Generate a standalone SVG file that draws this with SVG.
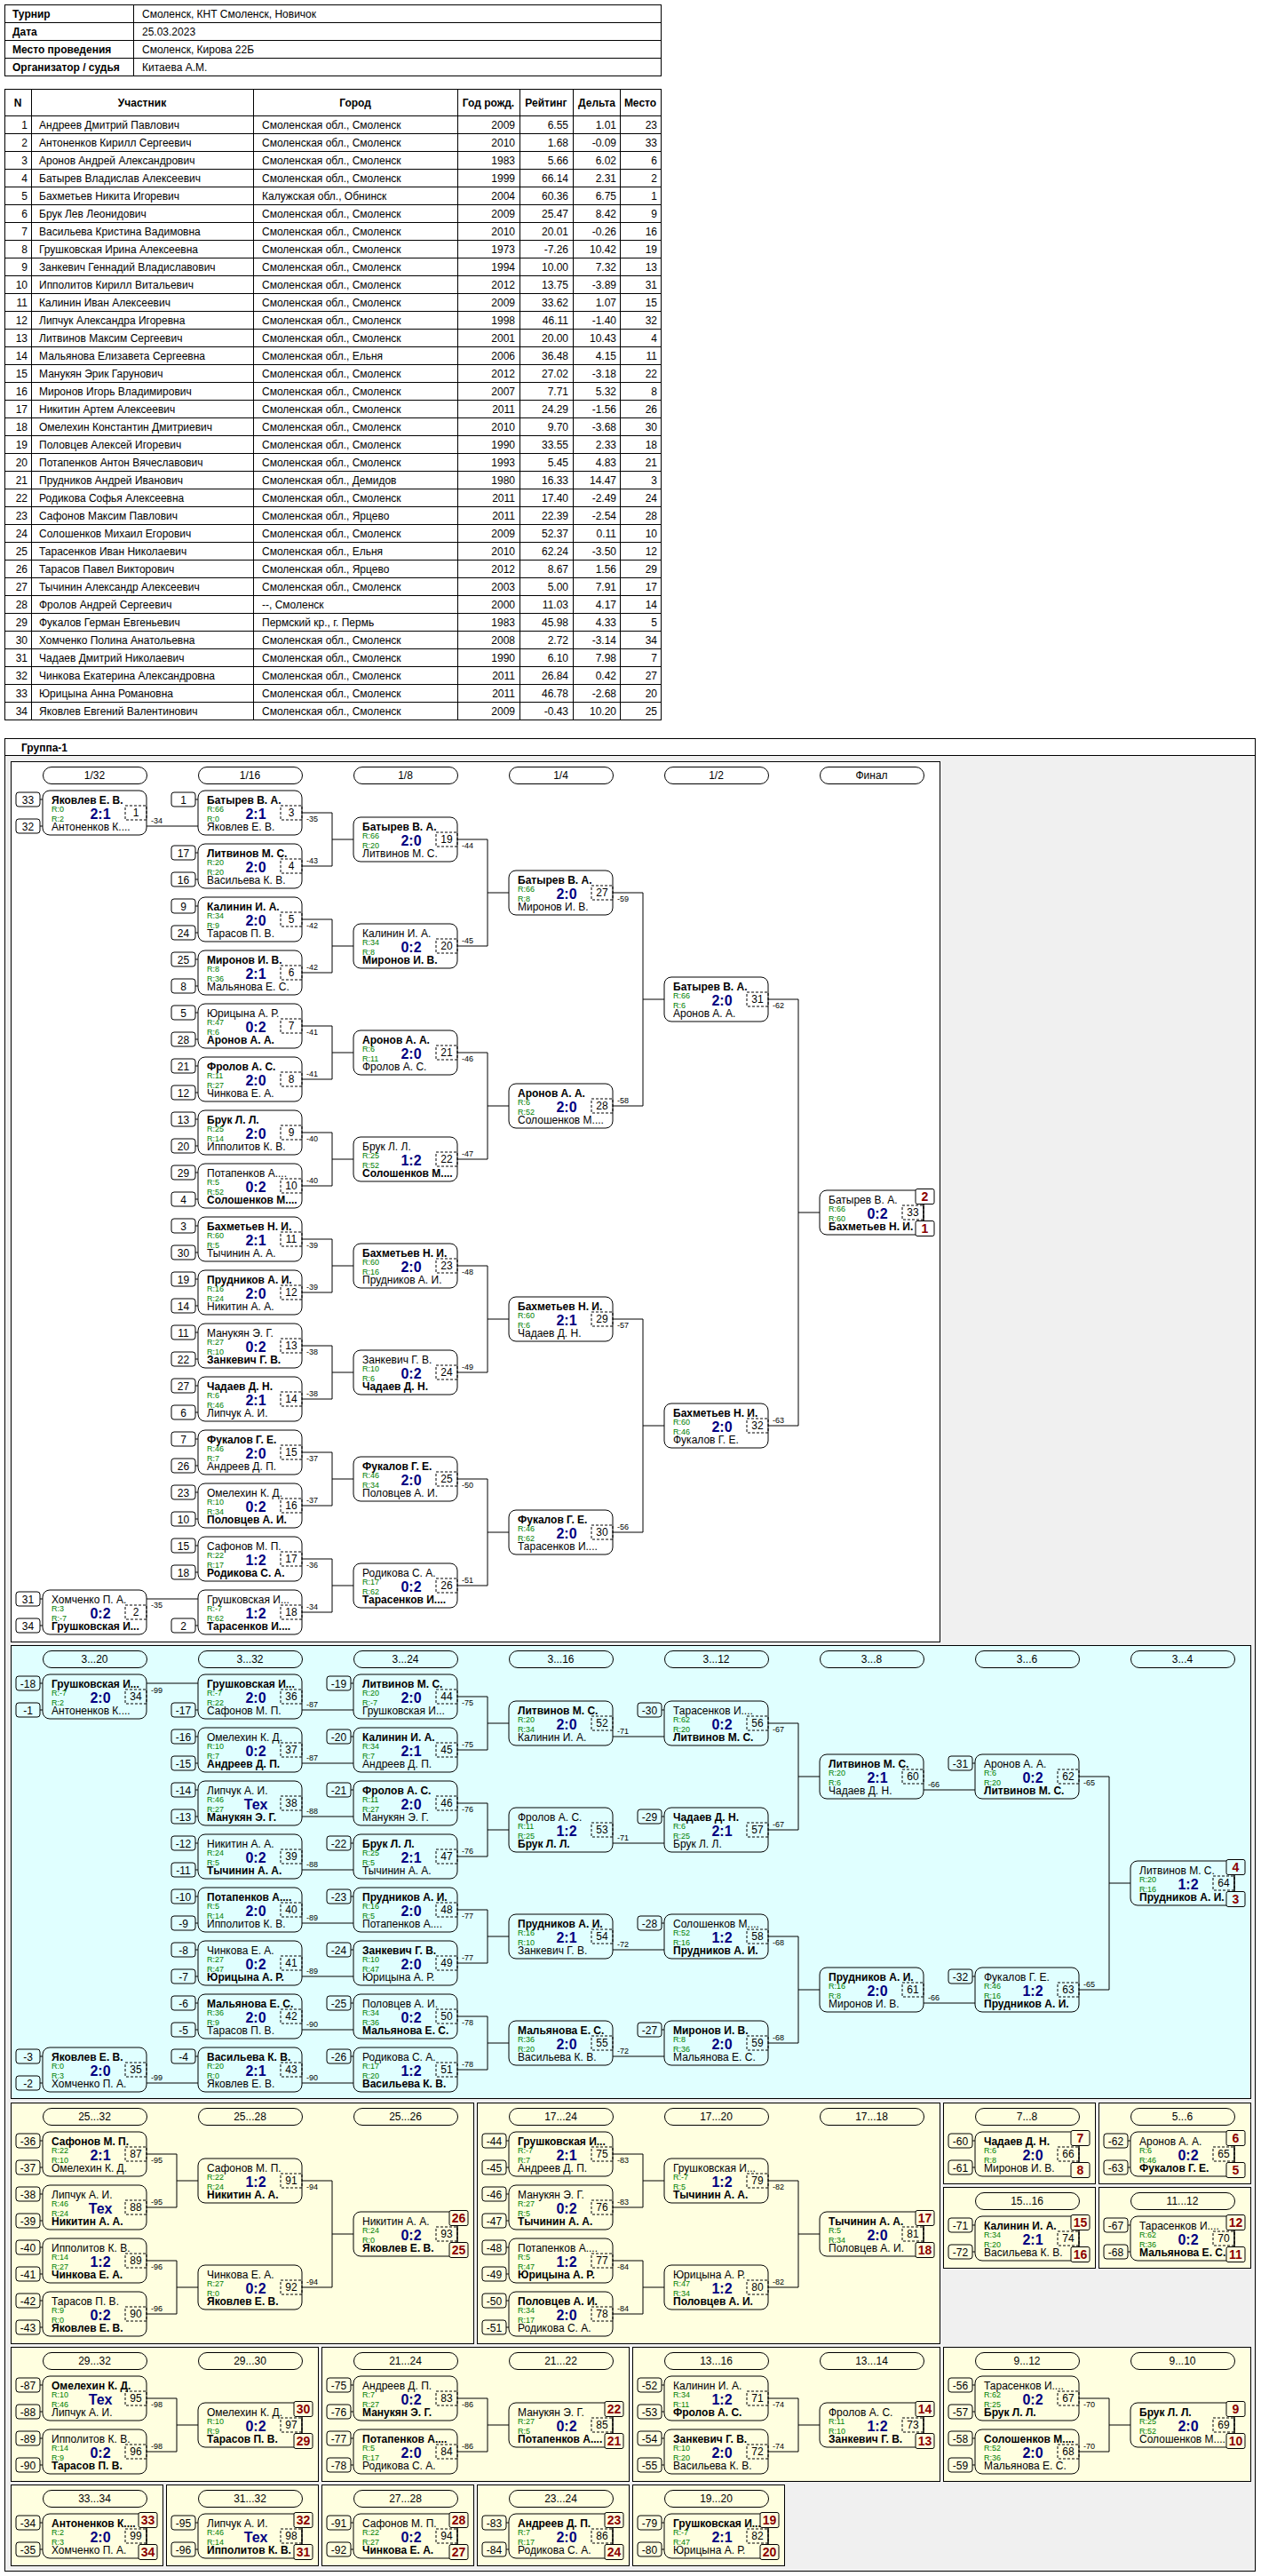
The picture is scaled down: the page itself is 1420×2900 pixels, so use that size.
<svg xmlns="http://www.w3.org/2000/svg" width="1420" height="2900" viewBox="0 0 1420 2900">
<style>
text{font-family:"Liberation Sans",Arial,Helvetica,sans-serif;fill:#000}
.n{font-size:12px}
.w{font-weight:bold}
.r{font-size:9px;fill:#008000}
.s{font-size:16px;font-weight:bold;fill:#000080;text-anchor:middle}
.k{font-size:12px;text-anchor:middle}
.l{font-size:9px}
.pt{font-size:14px;font-weight:bold;fill:#8b0000;text-anchor:middle}
.b{fill:none;stroke:#000}
.d{fill:none;stroke:#000;stroke-dasharray:3 2}
.pb{stroke:#000}
.cn path{fill:none;stroke:#000}
.tb{font-size:12px}
.th{font-size:12px;font-weight:bold;text-anchor:middle}
.e{text-anchor:end}
.grid{fill:none;stroke:#000}
</style>
<defs>
<g id="mb"><rect class="b" width="117" height="50" rx="8"/><rect class="d" x="93" y="17" width="24" height="16"/></g>
<g id="s2"><rect class="b" x="-30" y="2" width="27" height="16" rx="3"/><rect class="b" x="-30" y="32" width="27" height="16" rx="3"/><path class="b" d="M-3,10H0M-3,40H0"/></g>
<g id="sT"><rect class="b" x="-30" y="2" width="27" height="16" rx="3"/><path class="b" d="M-3,10H0"/></g>
<g id="sB"><rect class="b" x="-30" y="32" width="27" height="16" rx="3"/><path class="b" d="M-3,40H0"/></g>
<g id="pl"><path class="b" d="M117,15.5V34.5"/><rect class="pb" x="108" y="-1.5" width="21" height="17" rx="2"/><rect class="pb" x="108" y="34.5" width="21" height="17" rx="2"/></g>
<rect id="pill" class="b" width="117" height="19" rx="9.5"/>
</defs>
<rect width="1420" height="2900" fill="#fff"/>

<g id="info">
<rect class="grid" x="5.5" y="5.5" width="739" height="80"/>
<path class="grid" d="M5.5,25.5H744.5M5.5,45.5H744.5M5.5,65.5H744.5M150.5,5.5V85.5"/>
<text class="tb w" x="14" y="20">Турнир</text>
<text class="tb w" x="14" y="40">Дата</text>
<text class="tb w" x="14" y="60">Место проведения</text>
<text class="tb w" x="14" y="80">Организатор / судья</text>
<text class="tb" x="160" y="20">Смоленск, КНТ Смоленск, Новичок</text>
<text class="tb" x="160" y="40">25.03.2023</text>
<text class="tb" x="160" y="60">Смоленск, Кирова 22Б</text>
<text class="tb" x="160" y="80">Китаева А.М.</text>
</g>

<g id="participants">
<rect class="grid" x="5.5" y="100.5" width="739" height="710"/>
<path class="grid" d="M5.5,130.5H744.5M5.5,150.5H744.5M5.5,170.5H744.5M5.5,190.5H744.5M5.5,210.5H744.5M5.5,230.5H744.5M5.5,250.5H744.5M5.5,270.5H744.5M5.5,290.5H744.5M5.5,310.5H744.5M5.5,330.5H744.5M5.5,350.5H744.5M5.5,370.5H744.5M5.5,390.5H744.5M5.5,410.5H744.5M5.5,430.5H744.5M5.5,450.5H744.5M5.5,470.5H744.5M5.5,490.5H744.5M5.5,510.5H744.5M5.5,530.5H744.5M5.5,550.5H744.5M5.5,570.5H744.5M5.5,590.5H744.5M5.5,610.5H744.5M5.5,630.5H744.5M5.5,650.5H744.5M5.5,670.5H744.5M5.5,690.5H744.5M5.5,710.5H744.5M5.5,730.5H744.5M5.5,750.5H744.5M5.5,770.5H744.5M5.5,790.5H744.5M35.5,100.5V810.5M285.5,100.5V810.5M515.5,100.5V810.5M585.5,100.5V810.5M645.5,100.5V810.5M698.5,100.5V810.5"/>
<text class="th" x="20" y="120">N</text>
<text class="th" x="160" y="120">Участник</text>
<text class="th" x="400" y="120">Город</text>
<text class="th" x="550" y="120">Год рожд.</text>
<text class="th" x="615" y="120">Рейтинг</text>
<text class="th" x="672" y="120">Дельта</text>
<text class="th" x="721" y="120">Место</text>
<text class="tb e" x="31" y="145"><tspan x="31">1</tspan><tspan x="31" dy="20">2</tspan><tspan x="31" dy="20">3</tspan><tspan x="31" dy="20">4</tspan><tspan x="31" dy="20">5</tspan><tspan x="31" dy="20">6</tspan><tspan x="31" dy="20">7</tspan><tspan x="31" dy="20">8</tspan><tspan x="31" dy="20">9</tspan><tspan x="31" dy="20">10</tspan><tspan x="31" dy="20">11</tspan><tspan x="31" dy="20">12</tspan><tspan x="31" dy="20">13</tspan><tspan x="31" dy="20">14</tspan><tspan x="31" dy="20">15</tspan><tspan x="31" dy="20">16</tspan><tspan x="31" dy="20">17</tspan><tspan x="31" dy="20">18</tspan><tspan x="31" dy="20">19</tspan><tspan x="31" dy="20">20</tspan><tspan x="31" dy="20">21</tspan><tspan x="31" dy="20">22</tspan><tspan x="31" dy="20">23</tspan><tspan x="31" dy="20">24</tspan><tspan x="31" dy="20">25</tspan><tspan x="31" dy="20">26</tspan><tspan x="31" dy="20">27</tspan><tspan x="31" dy="20">28</tspan><tspan x="31" dy="20">29</tspan><tspan x="31" dy="20">30</tspan><tspan x="31" dy="20">31</tspan><tspan x="31" dy="20">32</tspan><tspan x="31" dy="20">33</tspan><tspan x="31" dy="20">34</tspan></text>
<text class="tb" x="44" y="145"><tspan x="44">Андреев Дмитрий Павлович</tspan><tspan x="44" dy="20">Антоненков Кирилл Сергеевич</tspan><tspan x="44" dy="20">Аронов Андрей Александрович</tspan><tspan x="44" dy="20">Батырев Владислав Алексеевич</tspan><tspan x="44" dy="20">Бахметьев Никита Игоревич</tspan><tspan x="44" dy="20">Брук Лев Леонидович</tspan><tspan x="44" dy="20">Васильева Кристина Вадимовна</tspan><tspan x="44" dy="20">Грушковская Ирина Алексеевна</tspan><tspan x="44" dy="20">Занкевич Геннадий Владиславович</tspan><tspan x="44" dy="20">Ипполитов Кирилл Витальевич</tspan><tspan x="44" dy="20">Калинин Иван Алексеевич</tspan><tspan x="44" dy="20">Липчук Александра Игоревна</tspan><tspan x="44" dy="20">Литвинов Максим Сергеевич</tspan><tspan x="44" dy="20">Мальянова Елизавета Сергеевна</tspan><tspan x="44" dy="20">Манукян Эрик Гарунович</tspan><tspan x="44" dy="20">Миронов Игорь Владимирович</tspan><tspan x="44" dy="20">Никитин Артем Алексеевич</tspan><tspan x="44" dy="20">Омелехин Константин Дмитриевич</tspan><tspan x="44" dy="20">Половцев Алексей Игоревич</tspan><tspan x="44" dy="20">Потапенков Антон Вячеславович</tspan><tspan x="44" dy="20">Прудников Андрей Иванович</tspan><tspan x="44" dy="20">Родикова Софья Алексеевна</tspan><tspan x="44" dy="20">Сафонов Максим Павлович</tspan><tspan x="44" dy="20">Солошенков Михаил Егорович</tspan><tspan x="44" dy="20">Тарасенков Иван Николаевич</tspan><tspan x="44" dy="20">Тарасов Павел Викторович</tspan><tspan x="44" dy="20">Тычинин Александр Алексеевич</tspan><tspan x="44" dy="20">Фролов Андрей Сергеевич</tspan><tspan x="44" dy="20">Фукалов Герман Евгеньевич</tspan><tspan x="44" dy="20">Хомченко Полина Анатольевна</tspan><tspan x="44" dy="20">Чадаев Дмитрий Николаевич</tspan><tspan x="44" dy="20">Чинкова Екатерина Александровна</tspan><tspan x="44" dy="20">Юрицына Анна Романовна</tspan><tspan x="44" dy="20">Яковлев Евгений Валентинович</tspan></text>
<text class="tb" x="295" y="145"><tspan x="295">Смоленская обл., Смоленск</tspan><tspan x="295" dy="20">Смоленская обл., Смоленск</tspan><tspan x="295" dy="20">Смоленская обл., Смоленск</tspan><tspan x="295" dy="20">Смоленская обл., Смоленск</tspan><tspan x="295" dy="20">Калужская обл., Обнинск</tspan><tspan x="295" dy="20">Смоленская обл., Смоленск</tspan><tspan x="295" dy="20">Смоленская обл., Смоленск</tspan><tspan x="295" dy="20">Смоленская обл., Смоленск</tspan><tspan x="295" dy="20">Смоленская обл., Смоленск</tspan><tspan x="295" dy="20">Смоленская обл., Смоленск</tspan><tspan x="295" dy="20">Смоленская обл., Смоленск</tspan><tspan x="295" dy="20">Смоленская обл., Смоленск</tspan><tspan x="295" dy="20">Смоленская обл., Смоленск</tspan><tspan x="295" dy="20">Смоленская обл., Ельня</tspan><tspan x="295" dy="20">Смоленская обл., Смоленск</tspan><tspan x="295" dy="20">Смоленская обл., Смоленск</tspan><tspan x="295" dy="20">Смоленская обл., Смоленск</tspan><tspan x="295" dy="20">Смоленская обл., Смоленск</tspan><tspan x="295" dy="20">Смоленская обл., Смоленск</tspan><tspan x="295" dy="20">Смоленская обл., Смоленск</tspan><tspan x="295" dy="20">Смоленская обл., Демидов</tspan><tspan x="295" dy="20">Смоленская обл., Смоленск</tspan><tspan x="295" dy="20">Смоленская обл., Ярцево</tspan><tspan x="295" dy="20">Смоленская обл., Смоленск</tspan><tspan x="295" dy="20">Смоленская обл., Ельня</tspan><tspan x="295" dy="20">Смоленская обл., Ярцево</tspan><tspan x="295" dy="20">Смоленская обл., Смоленск</tspan><tspan x="295" dy="20">--, Смоленск</tspan><tspan x="295" dy="20">Пермский кр., г. Пермь</tspan><tspan x="295" dy="20">Смоленская обл., Смоленск</tspan><tspan x="295" dy="20">Смоленская обл., Смоленск</tspan><tspan x="295" dy="20">Смоленская обл., Смоленск</tspan><tspan x="295" dy="20">Смоленская обл., Смоленск</tspan><tspan x="295" dy="20">Смоленская обл., Смоленск</tspan></text>
<text class="tb e" x="580" y="145"><tspan x="580">2009</tspan><tspan x="580" dy="20">2010</tspan><tspan x="580" dy="20">1983</tspan><tspan x="580" dy="20">1999</tspan><tspan x="580" dy="20">2004</tspan><tspan x="580" dy="20">2009</tspan><tspan x="580" dy="20">2010</tspan><tspan x="580" dy="20">1973</tspan><tspan x="580" dy="20">1994</tspan><tspan x="580" dy="20">2012</tspan><tspan x="580" dy="20">2009</tspan><tspan x="580" dy="20">1998</tspan><tspan x="580" dy="20">2001</tspan><tspan x="580" dy="20">2006</tspan><tspan x="580" dy="20">2012</tspan><tspan x="580" dy="20">2007</tspan><tspan x="580" dy="20">2011</tspan><tspan x="580" dy="20">2010</tspan><tspan x="580" dy="20">1990</tspan><tspan x="580" dy="20">1993</tspan><tspan x="580" dy="20">1980</tspan><tspan x="580" dy="20">2011</tspan><tspan x="580" dy="20">2011</tspan><tspan x="580" dy="20">2009</tspan><tspan x="580" dy="20">2010</tspan><tspan x="580" dy="20">2012</tspan><tspan x="580" dy="20">2003</tspan><tspan x="580" dy="20">2000</tspan><tspan x="580" dy="20">1983</tspan><tspan x="580" dy="20">2008</tspan><tspan x="580" dy="20">1990</tspan><tspan x="580" dy="20">2011</tspan><tspan x="580" dy="20">2011</tspan><tspan x="580" dy="20">2009</tspan></text>
<text class="tb e" x="640" y="145"><tspan x="640">6.55</tspan><tspan x="640" dy="20">1.68</tspan><tspan x="640" dy="20">5.66</tspan><tspan x="640" dy="20">66.14</tspan><tspan x="640" dy="20">60.36</tspan><tspan x="640" dy="20">25.47</tspan><tspan x="640" dy="20">20.01</tspan><tspan x="640" dy="20">-7.26</tspan><tspan x="640" dy="20">10.00</tspan><tspan x="640" dy="20">13.75</tspan><tspan x="640" dy="20">33.62</tspan><tspan x="640" dy="20">46.11</tspan><tspan x="640" dy="20">20.00</tspan><tspan x="640" dy="20">36.48</tspan><tspan x="640" dy="20">27.02</tspan><tspan x="640" dy="20">7.71</tspan><tspan x="640" dy="20">24.29</tspan><tspan x="640" dy="20">9.70</tspan><tspan x="640" dy="20">33.55</tspan><tspan x="640" dy="20">5.45</tspan><tspan x="640" dy="20">16.33</tspan><tspan x="640" dy="20">17.40</tspan><tspan x="640" dy="20">22.39</tspan><tspan x="640" dy="20">52.37</tspan><tspan x="640" dy="20">62.24</tspan><tspan x="640" dy="20">8.67</tspan><tspan x="640" dy="20">5.00</tspan><tspan x="640" dy="20">11.03</tspan><tspan x="640" dy="20">45.98</tspan><tspan x="640" dy="20">2.72</tspan><tspan x="640" dy="20">6.10</tspan><tspan x="640" dy="20">26.84</tspan><tspan x="640" dy="20">46.78</tspan><tspan x="640" dy="20">-0.43</tspan></text>
<text class="tb e" x="694" y="145"><tspan x="694">1.01</tspan><tspan x="694" dy="20">-0.09</tspan><tspan x="694" dy="20">6.02</tspan><tspan x="694" dy="20">2.31</tspan><tspan x="694" dy="20">6.75</tspan><tspan x="694" dy="20">8.42</tspan><tspan x="694" dy="20">-0.26</tspan><tspan x="694" dy="20">10.42</tspan><tspan x="694" dy="20">7.32</tspan><tspan x="694" dy="20">-3.89</tspan><tspan x="694" dy="20">1.07</tspan><tspan x="694" dy="20">-1.40</tspan><tspan x="694" dy="20">10.43</tspan><tspan x="694" dy="20">4.15</tspan><tspan x="694" dy="20">-3.18</tspan><tspan x="694" dy="20">5.32</tspan><tspan x="694" dy="20">-1.56</tspan><tspan x="694" dy="20">-3.68</tspan><tspan x="694" dy="20">2.33</tspan><tspan x="694" dy="20">4.83</tspan><tspan x="694" dy="20">14.47</tspan><tspan x="694" dy="20">-2.49</tspan><tspan x="694" dy="20">-2.54</tspan><tspan x="694" dy="20">0.11</tspan><tspan x="694" dy="20">-3.50</tspan><tspan x="694" dy="20">1.56</tspan><tspan x="694" dy="20">7.91</tspan><tspan x="694" dy="20">4.17</tspan><tspan x="694" dy="20">4.33</tspan><tspan x="694" dy="20">-3.14</tspan><tspan x="694" dy="20">7.98</tspan><tspan x="694" dy="20">0.42</tspan><tspan x="694" dy="20">-2.68</tspan><tspan x="694" dy="20">10.20</tspan></text>
<text class="tb e" x="740" y="145"><tspan x="740">23</tspan><tspan x="740" dy="20">33</tspan><tspan x="740" dy="20">6</tspan><tspan x="740" dy="20">2</tspan><tspan x="740" dy="20">1</tspan><tspan x="740" dy="20">9</tspan><tspan x="740" dy="20">16</tspan><tspan x="740" dy="20">19</tspan><tspan x="740" dy="20">13</tspan><tspan x="740" dy="20">31</tspan><tspan x="740" dy="20">15</tspan><tspan x="740" dy="20">32</tspan><tspan x="740" dy="20">4</tspan><tspan x="740" dy="20">11</tspan><tspan x="740" dy="20">22</tspan><tspan x="740" dy="20">8</tspan><tspan x="740" dy="20">26</tspan><tspan x="740" dy="20">30</tspan><tspan x="740" dy="20">18</tspan><tspan x="740" dy="20">21</tspan><tspan x="740" dy="20">3</tspan><tspan x="740" dy="20">24</tspan><tspan x="740" dy="20">28</tspan><tspan x="740" dy="20">10</tspan><tspan x="740" dy="20">12</tspan><tspan x="740" dy="20">29</tspan><tspan x="740" dy="20">17</tspan><tspan x="740" dy="20">14</tspan><tspan x="740" dy="20">5</tspan><tspan x="740" dy="20">34</tspan><tspan x="740" dy="20">7</tspan><tspan x="740" dy="20">27</tspan><tspan x="740" dy="20">20</tspan><tspan x="740" dy="20">25</tspan></text>
</g>

<g id="sections">
<rect x="5.5" y="831.5" width="1408" height="2063" fill="#f0f0f0" stroke="#000"/>
<rect x="5.5" y="831.5" width="1408" height="19" fill="#fff" stroke="#000"/>
<text class="n w" x="24" y="846">Группа-1</text>
<rect x="12.5" y="857.5" width="1046" height="991" fill="#fff" stroke="#000"/>
<rect x="12.5" y="1852.5" width="1396" height="510" fill="#e0ffff" stroke="#000"/>
<rect x="12.5" y="2367.5" width="521" height="271" fill="#ffffe0" stroke="#000"/>
<rect x="537.5" y="2367.5" width="521" height="271" fill="#ffffe0" stroke="#000"/>
<rect x="1062.5" y="2367.5" width="171" height="91" fill="#ffffe0" stroke="#000"/>
<rect x="1237.5" y="2367.5" width="171" height="91" fill="#ffffe0" stroke="#000"/>
<rect x="1062.5" y="2462.5" width="171" height="91" fill="#ffffe0" stroke="#000"/>
<rect x="1237.5" y="2462.5" width="171" height="91" fill="#ffffe0" stroke="#000"/>
<rect x="12.5" y="2642.5" width="346" height="151" fill="#ffffe0" stroke="#000"/>
<rect x="362.5" y="2642.5" width="346" height="151" fill="#ffffe0" stroke="#000"/>
<rect x="712.5" y="2642.5" width="346" height="151" fill="#ffffe0" stroke="#000"/>
<rect x="1062.5" y="2642.5" width="346" height="151" fill="#ffffe0" stroke="#000"/>
<rect x="12.5" y="2797.5" width="171" height="91" fill="#ffffe0" stroke="#000"/>
<rect x="187.5" y="2797.5" width="171" height="91" fill="#ffffe0" stroke="#000"/>
<rect x="362.5" y="2797.5" width="171" height="91" fill="#ffffe0" stroke="#000"/>
<rect x="537.5" y="2797.5" width="171" height="91" fill="#ffffe0" stroke="#000"/>
<rect x="712.5" y="2797.5" width="171" height="91" fill="#ffffe0" stroke="#000"/>
</g>

<g id="rounds">
<use href="#pill" x="48.5" y="863.5"/><text class="k" x="106.5" y="877">1/32</text>
<use href="#pill" x="223.5" y="863.5"/><text class="k" x="281.5" y="877">1/16</text>
<use href="#pill" x="398.5" y="863.5"/><text class="k" x="456.5" y="877">1/8</text>
<use href="#pill" x="573.5" y="863.5"/><text class="k" x="631.5" y="877">1/4</text>
<use href="#pill" x="748.5" y="863.5"/><text class="k" x="806.5" y="877">1/2</text>
<use href="#pill" x="923.5" y="863.5"/><text class="k" x="981.5" y="877">Финал</text>
<use href="#pill" x="48.5" y="1858.5"/><text class="k" x="106.5" y="1872">3...20</text>
<use href="#pill" x="223.5" y="1858.5"/><text class="k" x="281.5" y="1872">3...32</text>
<use href="#pill" x="398.5" y="1858.5"/><text class="k" x="456.5" y="1872">3...24</text>
<use href="#pill" x="573.5" y="1858.5"/><text class="k" x="631.5" y="1872">3...16</text>
<use href="#pill" x="748.5" y="1858.5"/><text class="k" x="806.5" y="1872">3...12</text>
<use href="#pill" x="923.5" y="1858.5"/><text class="k" x="981.5" y="1872">3...8</text>
<use href="#pill" x="1098.5" y="1858.5"/><text class="k" x="1156.5" y="1872">3...6</text>
<use href="#pill" x="1273.5" y="1858.5"/><text class="k" x="1331.5" y="1872">3...4</text>
<use href="#pill" x="48.5" y="2373.5"/><text class="k" x="106.5" y="2387">25...32</text>
<use href="#pill" x="223.5" y="2373.5"/><text class="k" x="281.5" y="2387">25...28</text>
<use href="#pill" x="398.5" y="2373.5"/><text class="k" x="456.5" y="2387">25...26</text>
<use href="#pill" x="573.5" y="2373.5"/><text class="k" x="631.5" y="2387">17...24</text>
<use href="#pill" x="748.5" y="2373.5"/><text class="k" x="806.5" y="2387">17...20</text>
<use href="#pill" x="923.5" y="2373.5"/><text class="k" x="981.5" y="2387">17...18</text>
<use href="#pill" x="1098.5" y="2373.5"/><text class="k" x="1156.5" y="2387">7...8</text>
<use href="#pill" x="1273.5" y="2373.5"/><text class="k" x="1331.5" y="2387">5...6</text>
<use href="#pill" x="1098.5" y="2468.5"/><text class="k" x="1156.5" y="2482">15...16</text>
<use href="#pill" x="1273.5" y="2468.5"/><text class="k" x="1331.5" y="2482">11...12</text>
<use href="#pill" x="48.5" y="2648.5"/><text class="k" x="106.5" y="2662">29...32</text>
<use href="#pill" x="223.5" y="2648.5"/><text class="k" x="281.5" y="2662">29...30</text>
<use href="#pill" x="398.5" y="2648.5"/><text class="k" x="456.5" y="2662">21...24</text>
<use href="#pill" x="573.5" y="2648.5"/><text class="k" x="631.5" y="2662">21...22</text>
<use href="#pill" x="748.5" y="2648.5"/><text class="k" x="806.5" y="2662">13...16</text>
<use href="#pill" x="923.5" y="2648.5"/><text class="k" x="981.5" y="2662">13...14</text>
<use href="#pill" x="1098.5" y="2648.5"/><text class="k" x="1156.5" y="2662">9...12</text>
<use href="#pill" x="1273.5" y="2648.5"/><text class="k" x="1331.5" y="2662">9...10</text>
<use href="#pill" x="48.5" y="2803.5"/><text class="k" x="106.5" y="2817">33...34</text>
<use href="#pill" x="223.5" y="2803.5"/><text class="k" x="281.5" y="2817">31...32</text>
<use href="#pill" x="398.5" y="2803.5"/><text class="k" x="456.5" y="2817">27...28</text>
<use href="#pill" x="573.5" y="2803.5"/><text class="k" x="631.5" y="2817">23...24</text>
<use href="#pill" x="748.5" y="2803.5"/><text class="k" x="806.5" y="2817">19...20</text>
</g>

<g id="connectors" class="cn">
<path d="M165,930H223M165,1800H223"/>
<path d="M340,915H374V975H340M374,945H398M340,1035H374V1095H340M374,1065H398M340,1155H374V1215H340M374,1185H398M340,1275H374V1335H340M374,1305H398M340,1395H374V1455H340M374,1425H398M340,1515H374V1575H340M374,1545H398M340,1635H374V1695H340M374,1665H398M340,1755H374V1815H340M374,1785H398"/>
<path d="M515,945H549V1065H515M549,1005H573M515,1185H549V1305H515M549,1245H573M515,1425H549V1545H515M549,1485H573M515,1665H549V1785H515M549,1725H573"/>
<path d="M690,1005H724V1245H690M724,1125H748M690,1485H724V1725H690M724,1605H748"/>
<path d="M865,1125H899V1605H865M899,1365H923"/>
<path d="M165,1895H223M165,2345H223M340,1925H398M340,1985H398M340,2045H398M340,2105H398M340,2165H398M340,2225H398M340,2285H398M340,2345H398"/>
<path d="M515,1910H549V1970H515M549,1940H573M515,2030H549V2090H515M549,2060H573M515,2150H549V2210H515M549,2180H573M515,2270H549V2330H515M549,2300H573"/>
<path d="M690,1955H748M690,2075H748M690,2195H748M690,2315H748"/>
<path d="M865,1940H899V2060H865M899,2000H923M865,2180H899V2300H865M899,2240H923"/>
<path d="M1040,2015H1098M1040,2255H1098M1215,2000H1249V2240H1215M1249,2120H1273"/>
<path d="M165,2425H199V2485H165M199,2455H223M165,2545H199V2605H165M199,2575H223M340,2455H374V2575H340M374,2515H398"/>
<path d="M690,2425H724V2485H690M724,2455H748M690,2545H724V2605H690M724,2575H748M865,2455H899V2575H865M899,2515H923"/>
<path d="M165,2700H199V2760H165M199,2730H223M515,2700H549V2760H515M549,2730H573M865,2700H899V2760H865M899,2730H923M1215,2700H1249V2760H1215M1249,2730H1273"/>
<text class="l" x="170" y="927">-34</text><text class="l" x="170" y="1810">-35</text>
<text class="l" x="345" y="925">-35</text><text class="l" x="345" y="972">-43</text>
<text class="l" x="345" y="1045">-42</text><text class="l" x="345" y="1092">-42</text>
<text class="l" x="345" y="1165">-41</text><text class="l" x="345" y="1212">-41</text>
<text class="l" x="345" y="1285">-40</text><text class="l" x="345" y="1332">-40</text>
<text class="l" x="345" y="1405">-39</text><text class="l" x="345" y="1452">-39</text>
<text class="l" x="345" y="1525">-38</text><text class="l" x="345" y="1572">-38</text>
<text class="l" x="345" y="1645">-37</text><text class="l" x="345" y="1692">-37</text>
<text class="l" x="345" y="1765">-36</text><text class="l" x="345" y="1812">-34</text>
<text class="l" x="520" y="955">-44</text><text class="l" x="520" y="1062">-45</text>
<text class="l" x="520" y="1195">-46</text><text class="l" x="520" y="1302">-47</text>
<text class="l" x="520" y="1435">-48</text><text class="l" x="520" y="1542">-49</text>
<text class="l" x="520" y="1675">-50</text><text class="l" x="520" y="1782">-51</text>
<text class="l" x="695" y="1015">-59</text><text class="l" x="695" y="1242">-58</text>
<text class="l" x="695" y="1495">-57</text><text class="l" x="695" y="1722">-56</text>
<text class="l" x="870" y="1135">-62</text><text class="l" x="870" y="1602">-63</text>
<text class="l" x="170" y="1906">-99</text><text class="l" x="170" y="2342">-99</text>
<text class="l" x="345" y="1922">-87</text><text class="l" x="345" y="1982">-87</text>
<text class="l" x="345" y="2042">-88</text><text class="l" x="345" y="2102">-88</text>
<text class="l" x="345" y="2162">-89</text><text class="l" x="345" y="2222">-89</text>
<text class="l" x="345" y="2282">-90</text><text class="l" x="345" y="2342">-90</text>
<text class="l" x="520" y="1920">-75</text><text class="l" x="520" y="1967">-75</text>
<text class="l" x="520" y="2040">-76</text><text class="l" x="520" y="2087">-76</text>
<text class="l" x="520" y="2160">-77</text><text class="l" x="520" y="2207">-77</text>
<text class="l" x="520" y="2280">-78</text><text class="l" x="520" y="2327">-78</text>
<text class="l" x="695" y="1952">-71</text><text class="l" x="695" y="2072">-71</text>
<text class="l" x="695" y="2192">-72</text><text class="l" x="695" y="2312">-72</text>
<text class="l" x="870" y="1950">-67</text><text class="l" x="870" y="2057">-67</text>
<text class="l" x="870" y="2190">-68</text><text class="l" x="870" y="2297">-68</text>
<text class="l" x="1045" y="2012">-66</text><text class="l" x="1045" y="2252">-66</text>
<text class="l" x="1220" y="2010">-65</text><text class="l" x="1220" y="2237">-65</text>
<text class="l" x="170" y="2435">-95</text><text class="l" x="170" y="2482">-95</text>
<text class="l" x="170" y="2555">-96</text><text class="l" x="170" y="2602">-96</text>
<text class="l" x="345" y="2465">-94</text><text class="l" x="345" y="2572">-94</text>
<text class="l" x="695" y="2435">-83</text><text class="l" x="695" y="2482">-83</text>
<text class="l" x="695" y="2555">-84</text><text class="l" x="695" y="2602">-84</text>
<text class="l" x="870" y="2465">-82</text><text class="l" x="870" y="2572">-82</text>
<text class="l" x="170" y="2710">-98</text><text class="l" x="170" y="2757">-98</text>
<text class="l" x="520" y="2710">-86</text><text class="l" x="520" y="2757">-86</text>
<text class="l" x="870" y="2710">-74</text><text class="l" x="870" y="2757">-74</text>
<text class="l" x="1220" y="2710">-70</text><text class="l" x="1220" y="2757">-70</text>
</g>

<g id="m1" transform="translate(48,890)"><use href="#mb"/><use href="#s2"/><text class="k" x="-16.5" y="15">33</text><text class="k" x="-16.5" y="45">32</text><text class="n w" x="10" y="15">Яковлев Е. В.</text><text class="r" x="10" y="24">R:0</text><text class="r" x="10" y="35">R:2</text><text class="s" x="65" y="32">2:1</text><text class="k" x="105" y="29">1</text><text class="n" x="10" y="45">Антоненков К....</text></g>
<g id="m2" transform="translate(48,1790)"><use href="#mb"/><use href="#s2"/><text class="k" x="-16.5" y="15">31</text><text class="k" x="-16.5" y="45">34</text><text class="n" x="10" y="15">Хомченко П. А.</text><text class="r" x="10" y="24">R:3</text><text class="r" x="10" y="35">R:-7</text><text class="s" x="65" y="32">0:2</text><text class="k" x="105" y="29">2</text><text class="n w" x="10" y="45">Грушковская И...</text></g>
<g id="m3" transform="translate(223,890)"><use href="#mb"/><use href="#sT"/><text class="k" x="-16.5" y="15">1</text><text class="n w" x="10" y="15">Батырев В. А.</text><text class="r" x="10" y="24">R:66</text><text class="r" x="10" y="35">R:0</text><text class="s" x="65" y="32">2:1</text><text class="k" x="105" y="29">3</text><text class="n" x="10" y="45">Яковлев Е. В.</text></g>
<g id="m4" transform="translate(223,950)"><use href="#mb"/><use href="#s2"/><text class="k" x="-16.5" y="15">17</text><text class="k" x="-16.5" y="45">16</text><text class="n w" x="10" y="15">Литвинов М. С.</text><text class="r" x="10" y="24">R:20</text><text class="r" x="10" y="35">R:20</text><text class="s" x="65" y="32">2:0</text><text class="k" x="105" y="29">4</text><text class="n" x="10" y="45">Васильева К. В.</text></g>
<g id="m5" transform="translate(223,1010)"><use href="#mb"/><use href="#s2"/><text class="k" x="-16.5" y="15">9</text><text class="k" x="-16.5" y="45">24</text><text class="n w" x="10" y="15">Калинин И. А.</text><text class="r" x="10" y="24">R:34</text><text class="r" x="10" y="35">R:9</text><text class="s" x="65" y="32">2:0</text><text class="k" x="105" y="29">5</text><text class="n" x="10" y="45">Тарасов П. В.</text></g>
<g id="m6" transform="translate(223,1070)"><use href="#mb"/><use href="#s2"/><text class="k" x="-16.5" y="15">25</text><text class="k" x="-16.5" y="45">8</text><text class="n w" x="10" y="15">Миронов И. В.</text><text class="r" x="10" y="24">R:8</text><text class="r" x="10" y="35">R:36</text><text class="s" x="65" y="32">2:1</text><text class="k" x="105" y="29">6</text><text class="n" x="10" y="45">Мальянова Е. С.</text></g>
<g id="m7" transform="translate(223,1130)"><use href="#mb"/><use href="#s2"/><text class="k" x="-16.5" y="15">5</text><text class="k" x="-16.5" y="45">28</text><text class="n" x="10" y="15">Юрицына А. Р.</text><text class="r" x="10" y="24">R:47</text><text class="r" x="10" y="35">R:6</text><text class="s" x="65" y="32">0:2</text><text class="k" x="105" y="29">7</text><text class="n w" x="10" y="45">Аронов А. А.</text></g>
<g id="m8" transform="translate(223,1190)"><use href="#mb"/><use href="#s2"/><text class="k" x="-16.5" y="15">21</text><text class="k" x="-16.5" y="45">12</text><text class="n w" x="10" y="15">Фролов А. С.</text><text class="r" x="10" y="24">R:11</text><text class="r" x="10" y="35">R:27</text><text class="s" x="65" y="32">2:0</text><text class="k" x="105" y="29">8</text><text class="n" x="10" y="45">Чинкова Е. А.</text></g>
<g id="m9" transform="translate(223,1250)"><use href="#mb"/><use href="#s2"/><text class="k" x="-16.5" y="15">13</text><text class="k" x="-16.5" y="45">20</text><text class="n w" x="10" y="15">Брук Л. Л.</text><text class="r" x="10" y="24">R:25</text><text class="r" x="10" y="35">R:14</text><text class="s" x="65" y="32">2:0</text><text class="k" x="105" y="29">9</text><text class="n" x="10" y="45">Ипполитов К. В.</text></g>
<g id="m10" transform="translate(223,1310)"><use href="#mb"/><use href="#s2"/><text class="k" x="-16.5" y="15">29</text><text class="k" x="-16.5" y="45">4</text><text class="n" x="10" y="15">Потапенков А....</text><text class="r" x="10" y="24">R:5</text><text class="r" x="10" y="35">R:52</text><text class="s" x="65" y="32">0:2</text><text class="k" x="105" y="29">10</text><text class="n w" x="10" y="45">Солошенков М....</text></g>
<g id="m11" transform="translate(223,1370)"><use href="#mb"/><use href="#s2"/><text class="k" x="-16.5" y="15">3</text><text class="k" x="-16.5" y="45">30</text><text class="n w" x="10" y="15">Бахметьев Н. И.</text><text class="r" x="10" y="24">R:60</text><text class="r" x="10" y="35">R:5</text><text class="s" x="65" y="32">2:1</text><text class="k" x="105" y="29">11</text><text class="n" x="10" y="45">Тычинин А. А.</text></g>
<g id="m12" transform="translate(223,1430)"><use href="#mb"/><use href="#s2"/><text class="k" x="-16.5" y="15">19</text><text class="k" x="-16.5" y="45">14</text><text class="n w" x="10" y="15">Прудников А. И.</text><text class="r" x="10" y="24">R:16</text><text class="r" x="10" y="35">R:24</text><text class="s" x="65" y="32">2:0</text><text class="k" x="105" y="29">12</text><text class="n" x="10" y="45">Никитин А. А.</text></g>
<g id="m13" transform="translate(223,1490)"><use href="#mb"/><use href="#s2"/><text class="k" x="-16.5" y="15">11</text><text class="k" x="-16.5" y="45">22</text><text class="n" x="10" y="15">Манукян Э. Г.</text><text class="r" x="10" y="24">R:27</text><text class="r" x="10" y="35">R:10</text><text class="s" x="65" y="32">0:2</text><text class="k" x="105" y="29">13</text><text class="n w" x="10" y="45">Занкевич Г. В.</text></g>
<g id="m14" transform="translate(223,1550)"><use href="#mb"/><use href="#s2"/><text class="k" x="-16.5" y="15">27</text><text class="k" x="-16.5" y="45">6</text><text class="n w" x="10" y="15">Чадаев Д. Н.</text><text class="r" x="10" y="24">R:6</text><text class="r" x="10" y="35">R:46</text><text class="s" x="65" y="32">2:1</text><text class="k" x="105" y="29">14</text><text class="n" x="10" y="45">Липчук А. И.</text></g>
<g id="m15" transform="translate(223,1610)"><use href="#mb"/><use href="#s2"/><text class="k" x="-16.5" y="15">7</text><text class="k" x="-16.5" y="45">26</text><text class="n w" x="10" y="15">Фукалов Г. Е.</text><text class="r" x="10" y="24">R:46</text><text class="r" x="10" y="35">R:7</text><text class="s" x="65" y="32">2:0</text><text class="k" x="105" y="29">15</text><text class="n" x="10" y="45">Андреев Д. П.</text></g>
<g id="m16" transform="translate(223,1670)"><use href="#mb"/><use href="#s2"/><text class="k" x="-16.5" y="15">23</text><text class="k" x="-16.5" y="45">10</text><text class="n" x="10" y="15">Омелехин К. Д.</text><text class="r" x="10" y="24">R:10</text><text class="r" x="10" y="35">R:34</text><text class="s" x="65" y="32">0:2</text><text class="k" x="105" y="29">16</text><text class="n w" x="10" y="45">Половцев А. И.</text></g>
<g id="m17" transform="translate(223,1730)"><use href="#mb"/><use href="#s2"/><text class="k" x="-16.5" y="15">15</text><text class="k" x="-16.5" y="45">18</text><text class="n" x="10" y="15">Сафонов М. П.</text><text class="r" x="10" y="24">R:22</text><text class="r" x="10" y="35">R:17</text><text class="s" x="65" y="32">1:2</text><text class="k" x="105" y="29">17</text><text class="n w" x="10" y="45">Родикова С. А.</text></g>
<g id="m18" transform="translate(223,1790)"><use href="#mb"/><use href="#sB"/><text class="k" x="-16.5" y="45">2</text><text class="n" x="10" y="15">Грушковская И...</text><text class="r" x="10" y="24">R:-7</text><text class="r" x="10" y="35">R:62</text><text class="s" x="65" y="32">1:2</text><text class="k" x="105" y="29">18</text><text class="n w" x="10" y="45">Тарасенков И....</text></g>
<g id="m19" transform="translate(398,920)"><use href="#mb"/><text class="n w" x="10" y="15">Батырев В. А.</text><text class="r" x="10" y="24">R:66</text><text class="r" x="10" y="35">R:20</text><text class="s" x="65" y="32">2:0</text><text class="k" x="105" y="29">19</text><text class="n" x="10" y="45">Литвинов М. С.</text></g>
<g id="m20" transform="translate(398,1040)"><use href="#mb"/><text class="n" x="10" y="15">Калинин И. А.</text><text class="r" x="10" y="24">R:34</text><text class="r" x="10" y="35">R:8</text><text class="s" x="65" y="32">0:2</text><text class="k" x="105" y="29">20</text><text class="n w" x="10" y="45">Миронов И. В.</text></g>
<g id="m21" transform="translate(398,1160)"><use href="#mb"/><text class="n w" x="10" y="15">Аронов А. А.</text><text class="r" x="10" y="24">R:6</text><text class="r" x="10" y="35">R:11</text><text class="s" x="65" y="32">2:0</text><text class="k" x="105" y="29">21</text><text class="n" x="10" y="45">Фролов А. С.</text></g>
<g id="m22" transform="translate(398,1280)"><use href="#mb"/><text class="n" x="10" y="15">Брук Л. Л.</text><text class="r" x="10" y="24">R:25</text><text class="r" x="10" y="35">R:52</text><text class="s" x="65" y="32">1:2</text><text class="k" x="105" y="29">22</text><text class="n w" x="10" y="45">Солошенков М....</text></g>
<g id="m23" transform="translate(398,1400)"><use href="#mb"/><text class="n w" x="10" y="15">Бахметьев Н. И.</text><text class="r" x="10" y="24">R:60</text><text class="r" x="10" y="35">R:16</text><text class="s" x="65" y="32">2:0</text><text class="k" x="105" y="29">23</text><text class="n" x="10" y="45">Прудников А. И.</text></g>
<g id="m24" transform="translate(398,1520)"><use href="#mb"/><text class="n" x="10" y="15">Занкевич Г. В.</text><text class="r" x="10" y="24">R:10</text><text class="r" x="10" y="35">R:6</text><text class="s" x="65" y="32">0:2</text><text class="k" x="105" y="29">24</text><text class="n w" x="10" y="45">Чадаев Д. Н.</text></g>
<g id="m25" transform="translate(398,1640)"><use href="#mb"/><text class="n w" x="10" y="15">Фукалов Г. Е.</text><text class="r" x="10" y="24">R:46</text><text class="r" x="10" y="35">R:34</text><text class="s" x="65" y="32">2:0</text><text class="k" x="105" y="29">25</text><text class="n" x="10" y="45">Половцев А. И.</text></g>
<g id="m26" transform="translate(398,1760)"><use href="#mb"/><text class="n" x="10" y="15">Родикова С. А.</text><text class="r" x="10" y="24">R:17</text><text class="r" x="10" y="35">R:62</text><text class="s" x="65" y="32">0:2</text><text class="k" x="105" y="29">26</text><text class="n w" x="10" y="45">Тарасенков И....</text></g>
<g id="m27" transform="translate(573,980)"><use href="#mb"/><text class="n w" x="10" y="15">Батырев В. А.</text><text class="r" x="10" y="24">R:66</text><text class="r" x="10" y="35">R:8</text><text class="s" x="65" y="32">2:0</text><text class="k" x="105" y="29">27</text><text class="n" x="10" y="45">Миронов И. В.</text></g>
<g id="m28" transform="translate(573,1220)"><use href="#mb"/><text class="n w" x="10" y="15">Аронов А. А.</text><text class="r" x="10" y="24">R:6</text><text class="r" x="10" y="35">R:52</text><text class="s" x="65" y="32">2:0</text><text class="k" x="105" y="29">28</text><text class="n" x="10" y="45">Солошенков М....</text></g>
<g id="m29" transform="translate(573,1460)"><use href="#mb"/><text class="n w" x="10" y="15">Бахметьев Н. И.</text><text class="r" x="10" y="24">R:60</text><text class="r" x="10" y="35">R:6</text><text class="s" x="65" y="32">2:1</text><text class="k" x="105" y="29">29</text><text class="n" x="10" y="45">Чадаев Д. Н.</text></g>
<g id="m30" transform="translate(573,1700)"><use href="#mb"/><text class="n w" x="10" y="15">Фукалов Г. Е.</text><text class="r" x="10" y="24">R:46</text><text class="r" x="10" y="35">R:62</text><text class="s" x="65" y="32">2:0</text><text class="k" x="105" y="29">30</text><text class="n" x="10" y="45">Тарасенков И....</text></g>
<g id="m31" transform="translate(748,1100)"><use href="#mb"/><text class="n w" x="10" y="15">Батырев В. А.</text><text class="r" x="10" y="24">R:66</text><text class="r" x="10" y="35">R:6</text><text class="s" x="65" y="32">2:0</text><text class="k" x="105" y="29">31</text><text class="n" x="10" y="45">Аронов А. А.</text></g>
<g id="m32" transform="translate(748,1580)"><use href="#mb"/><text class="n w" x="10" y="15">Бахметьев Н. И.</text><text class="r" x="10" y="24">R:60</text><text class="r" x="10" y="35">R:46</text><text class="s" x="65" y="32">2:0</text><text class="k" x="105" y="29">32</text><text class="n" x="10" y="45">Фукалов Г. Е.</text></g>
<g id="m33" transform="translate(923,1340)"><use href="#mb"/><use href="#pl" fill="#fff"/><text class="pt" x="118.5" y="12">2</text><text class="pt" x="118.5" y="48">1</text><text class="n" x="10" y="15">Батырев В. А.</text><text class="r" x="10" y="24">R:66</text><text class="r" x="10" y="35">R:60</text><text class="s" x="65" y="32">0:2</text><text class="k" x="105" y="29">33</text><text class="n w" x="10" y="45">Бахметьев Н. И.</text></g>

<g id="m34" transform="translate(48,1885)"><use href="#mb"/><use href="#s2"/><text class="k" x="-16.5" y="15">-18</text><text class="k" x="-16.5" y="45">-1</text><text class="n w" x="10" y="15">Грушковская И...</text><text class="r" x="10" y="24">R:-7</text><text class="r" x="10" y="35">R:2</text><text class="s" x="65" y="32">2:0</text><text class="k" x="105" y="29">34</text><text class="n" x="10" y="45">Антоненков К....</text></g>
<g id="m35" transform="translate(48,2305)"><use href="#mb"/><use href="#s2"/><text class="k" x="-16.5" y="15">-3</text><text class="k" x="-16.5" y="45">-2</text><text class="n w" x="10" y="15">Яковлев Е. В.</text><text class="r" x="10" y="24">R:0</text><text class="r" x="10" y="35">R:3</text><text class="s" x="65" y="32">2:0</text><text class="k" x="105" y="29">35</text><text class="n" x="10" y="45">Хомченко П. А.</text></g>
<g id="m36" transform="translate(223,1885)"><use href="#mb"/><use href="#sB"/><text class="k" x="-16.5" y="45">-17</text><text class="n w" x="10" y="15">Грушковская И...</text><text class="r" x="10" y="24">R:-7</text><text class="r" x="10" y="35">R:22</text><text class="s" x="65" y="32">2:0</text><text class="k" x="105" y="29">36</text><text class="n" x="10" y="45">Сафонов М. П.</text></g>
<g id="m37" transform="translate(223,1945)"><use href="#mb"/><use href="#s2"/><text class="k" x="-16.5" y="15">-16</text><text class="k" x="-16.5" y="45">-15</text><text class="n" x="10" y="15">Омелехин К. Д.</text><text class="r" x="10" y="24">R:10</text><text class="r" x="10" y="35">R:7</text><text class="s" x="65" y="32">0:2</text><text class="k" x="105" y="29">37</text><text class="n w" x="10" y="45">Андреев Д. П.</text></g>
<g id="m38" transform="translate(223,2005)"><use href="#mb"/><use href="#s2"/><text class="k" x="-16.5" y="15">-14</text><text class="k" x="-16.5" y="45">-13</text><text class="n" x="10" y="15">Липчук А. И.</text><text class="r" x="10" y="24">R:46</text><text class="r" x="10" y="35">R:27</text><text class="s" x="65" y="32">Тех</text><text class="k" x="105" y="29">38</text><text class="n w" x="10" y="45">Манукян Э. Г.</text></g>
<g id="m39" transform="translate(223,2065)"><use href="#mb"/><use href="#s2"/><text class="k" x="-16.5" y="15">-12</text><text class="k" x="-16.5" y="45">-11</text><text class="n" x="10" y="15">Никитин А. А.</text><text class="r" x="10" y="24">R:24</text><text class="r" x="10" y="35">R:5</text><text class="s" x="65" y="32">0:2</text><text class="k" x="105" y="29">39</text><text class="n w" x="10" y="45">Тычинин А. А.</text></g>
<g id="m40" transform="translate(223,2125)"><use href="#mb"/><use href="#s2"/><text class="k" x="-16.5" y="15">-10</text><text class="k" x="-16.5" y="45">-9</text><text class="n w" x="10" y="15">Потапенков А....</text><text class="r" x="10" y="24">R:5</text><text class="r" x="10" y="35">R:14</text><text class="s" x="65" y="32">2:0</text><text class="k" x="105" y="29">40</text><text class="n" x="10" y="45">Ипполитов К. В.</text></g>
<g id="m41" transform="translate(223,2185)"><use href="#mb"/><use href="#s2"/><text class="k" x="-16.5" y="15">-8</text><text class="k" x="-16.5" y="45">-7</text><text class="n" x="10" y="15">Чинкова Е. А.</text><text class="r" x="10" y="24">R:27</text><text class="r" x="10" y="35">R:47</text><text class="s" x="65" y="32">0:2</text><text class="k" x="105" y="29">41</text><text class="n w" x="10" y="45">Юрицына А. Р.</text></g>
<g id="m42" transform="translate(223,2245)"><use href="#mb"/><use href="#s2"/><text class="k" x="-16.5" y="15">-6</text><text class="k" x="-16.5" y="45">-5</text><text class="n w" x="10" y="15">Мальянова Е. С.</text><text class="r" x="10" y="24">R:36</text><text class="r" x="10" y="35">R:9</text><text class="s" x="65" y="32">2:0</text><text class="k" x="105" y="29">42</text><text class="n" x="10" y="45">Тарасов П. В.</text></g>
<g id="m43" transform="translate(223,2305)"><use href="#mb"/><use href="#sT"/><text class="k" x="-16.5" y="15">-4</text><text class="n w" x="10" y="15">Васильева К. В.</text><text class="r" x="10" y="24">R:20</text><text class="r" x="10" y="35">R:0</text><text class="s" x="65" y="32">2:1</text><text class="k" x="105" y="29">43</text><text class="n" x="10" y="45">Яковлев Е. В.</text></g>
<g id="m44" transform="translate(398,1885)"><use href="#mb"/><use href="#sT"/><text class="k" x="-16.5" y="15">-19</text><text class="n w" x="10" y="15">Литвинов М. С.</text><text class="r" x="10" y="24">R:20</text><text class="r" x="10" y="35">R:-7</text><text class="s" x="65" y="32">2:0</text><text class="k" x="105" y="29">44</text><text class="n" x="10" y="45">Грушковская И...</text></g>
<g id="m45" transform="translate(398,1945)"><use href="#mb"/><use href="#sT"/><text class="k" x="-16.5" y="15">-20</text><text class="n w" x="10" y="15">Калинин И. А.</text><text class="r" x="10" y="24">R:34</text><text class="r" x="10" y="35">R:7</text><text class="s" x="65" y="32">2:1</text><text class="k" x="105" y="29">45</text><text class="n" x="10" y="45">Андреев Д. П.</text></g>
<g id="m46" transform="translate(398,2005)"><use href="#mb"/><use href="#sT"/><text class="k" x="-16.5" y="15">-21</text><text class="n w" x="10" y="15">Фролов А. С.</text><text class="r" x="10" y="24">R:11</text><text class="r" x="10" y="35">R:27</text><text class="s" x="65" y="32">2:0</text><text class="k" x="105" y="29">46</text><text class="n" x="10" y="45">Манукян Э. Г.</text></g>
<g id="m47" transform="translate(398,2065)"><use href="#mb"/><use href="#sT"/><text class="k" x="-16.5" y="15">-22</text><text class="n w" x="10" y="15">Брук Л. Л.</text><text class="r" x="10" y="24">R:25</text><text class="r" x="10" y="35">R:5</text><text class="s" x="65" y="32">2:1</text><text class="k" x="105" y="29">47</text><text class="n" x="10" y="45">Тычинин А. А.</text></g>
<g id="m48" transform="translate(398,2125)"><use href="#mb"/><use href="#sT"/><text class="k" x="-16.5" y="15">-23</text><text class="n w" x="10" y="15">Прудников А. И.</text><text class="r" x="10" y="24">R:16</text><text class="r" x="10" y="35">R:5</text><text class="s" x="65" y="32">2:0</text><text class="k" x="105" y="29">48</text><text class="n" x="10" y="45">Потапенков А....</text></g>
<g id="m49" transform="translate(398,2185)"><use href="#mb"/><use href="#sT"/><text class="k" x="-16.5" y="15">-24</text><text class="n w" x="10" y="15">Занкевич Г. В.</text><text class="r" x="10" y="24">R:10</text><text class="r" x="10" y="35">R:47</text><text class="s" x="65" y="32">2:0</text><text class="k" x="105" y="29">49</text><text class="n" x="10" y="45">Юрицына А. Р.</text></g>
<g id="m50" transform="translate(398,2245)"><use href="#mb"/><use href="#sT"/><text class="k" x="-16.5" y="15">-25</text><text class="n" x="10" y="15">Половцев А. И.</text><text class="r" x="10" y="24">R:34</text><text class="r" x="10" y="35">R:36</text><text class="s" x="65" y="32">0:2</text><text class="k" x="105" y="29">50</text><text class="n w" x="10" y="45">Мальянова Е. С.</text></g>
<g id="m51" transform="translate(398,2305)"><use href="#mb"/><use href="#sT"/><text class="k" x="-16.5" y="15">-26</text><text class="n" x="10" y="15">Родикова С. А.</text><text class="r" x="10" y="24">R:17</text><text class="r" x="10" y="35">R:20</text><text class="s" x="65" y="32">1:2</text><text class="k" x="105" y="29">51</text><text class="n w" x="10" y="45">Васильева К. В.</text></g>
<g id="m52" transform="translate(573,1915)"><use href="#mb"/><text class="n w" x="10" y="15">Литвинов М. С.</text><text class="r" x="10" y="24">R:20</text><text class="r" x="10" y="35">R:34</text><text class="s" x="65" y="32">2:0</text><text class="k" x="105" y="29">52</text><text class="n" x="10" y="45">Калинин И. А.</text></g>
<g id="m53" transform="translate(573,2035)"><use href="#mb"/><text class="n" x="10" y="15">Фролов А. С.</text><text class="r" x="10" y="24">R:11</text><text class="r" x="10" y="35">R:25</text><text class="s" x="65" y="32">1:2</text><text class="k" x="105" y="29">53</text><text class="n w" x="10" y="45">Брук Л. Л.</text></g>
<g id="m54" transform="translate(573,2155)"><use href="#mb"/><text class="n w" x="10" y="15">Прудников А. И.</text><text class="r" x="10" y="24">R:16</text><text class="r" x="10" y="35">R:10</text><text class="s" x="65" y="32">2:1</text><text class="k" x="105" y="29">54</text><text class="n" x="10" y="45">Занкевич Г. В.</text></g>
<g id="m55" transform="translate(573,2275)"><use href="#mb"/><text class="n w" x="10" y="15">Мальянова Е. С.</text><text class="r" x="10" y="24">R:36</text><text class="r" x="10" y="35">R:20</text><text class="s" x="65" y="32">2:0</text><text class="k" x="105" y="29">55</text><text class="n" x="10" y="45">Васильева К. В.</text></g>
<g id="m56" transform="translate(748,1915)"><use href="#mb"/><use href="#sT"/><text class="k" x="-16.5" y="15">-30</text><text class="n" x="10" y="15">Тарасенков И....</text><text class="r" x="10" y="24">R:62</text><text class="r" x="10" y="35">R:20</text><text class="s" x="65" y="32">0:2</text><text class="k" x="105" y="29">56</text><text class="n w" x="10" y="45">Литвинов М. С.</text></g>
<g id="m57" transform="translate(748,2035)"><use href="#mb"/><use href="#sT"/><text class="k" x="-16.5" y="15">-29</text><text class="n w" x="10" y="15">Чадаев Д. Н.</text><text class="r" x="10" y="24">R:6</text><text class="r" x="10" y="35">R:25</text><text class="s" x="65" y="32">2:1</text><text class="k" x="105" y="29">57</text><text class="n" x="10" y="45">Брук Л. Л.</text></g>
<g id="m58" transform="translate(748,2155)"><use href="#mb"/><use href="#sT"/><text class="k" x="-16.5" y="15">-28</text><text class="n" x="10" y="15">Солошенков М....</text><text class="r" x="10" y="24">R:52</text><text class="r" x="10" y="35">R:16</text><text class="s" x="65" y="32">1:2</text><text class="k" x="105" y="29">58</text><text class="n w" x="10" y="45">Прудников А. И.</text></g>
<g id="m59" transform="translate(748,2275)"><use href="#mb"/><use href="#sT"/><text class="k" x="-16.5" y="15">-27</text><text class="n w" x="10" y="15">Миронов И. В.</text><text class="r" x="10" y="24">R:8</text><text class="r" x="10" y="35">R:36</text><text class="s" x="65" y="32">2:0</text><text class="k" x="105" y="29">59</text><text class="n" x="10" y="45">Мальянова Е. С.</text></g>
<g id="m60" transform="translate(923,1975)"><use href="#mb"/><text class="n w" x="10" y="15">Литвинов М. С.</text><text class="r" x="10" y="24">R:20</text><text class="r" x="10" y="35">R:6</text><text class="s" x="65" y="32">2:1</text><text class="k" x="105" y="29">60</text><text class="n" x="10" y="45">Чадаев Д. Н.</text></g>
<g id="m61" transform="translate(923,2215)"><use href="#mb"/><text class="n w" x="10" y="15">Прудников А. И.</text><text class="r" x="10" y="24">R:16</text><text class="r" x="10" y="35">R:8</text><text class="s" x="65" y="32">2:0</text><text class="k" x="105" y="29">61</text><text class="n" x="10" y="45">Миронов И. В.</text></g>
<g id="m62" transform="translate(1098,1975)"><use href="#mb"/><use href="#sT"/><text class="k" x="-16.5" y="15">-31</text><text class="n" x="10" y="15">Аронов А. А.</text><text class="r" x="10" y="24">R:6</text><text class="r" x="10" y="35">R:20</text><text class="s" x="65" y="32">0:2</text><text class="k" x="105" y="29">62</text><text class="n w" x="10" y="45">Литвинов М. С.</text></g>
<g id="m63" transform="translate(1098,2215)"><use href="#mb"/><use href="#sT"/><text class="k" x="-16.5" y="15">-32</text><text class="n" x="10" y="15">Фукалов Г. Е.</text><text class="r" x="10" y="24">R:46</text><text class="r" x="10" y="35">R:16</text><text class="s" x="65" y="32">1:2</text><text class="k" x="105" y="29">63</text><text class="n w" x="10" y="45">Прудников А. И.</text></g>
<g id="m64" transform="translate(1273,2095)"><use href="#mb"/><use href="#pl" fill="#e0ffff"/><text class="pt" x="118.5" y="12">4</text><text class="pt" x="118.5" y="48">3</text><text class="n" x="10" y="15">Литвинов М. С.</text><text class="r" x="10" y="24">R:20</text><text class="r" x="10" y="35">R:16</text><text class="s" x="65" y="32">1:2</text><text class="k" x="105" y="29">64</text><text class="n w" x="10" y="45">Прудников А. И.</text></g>

<g id="m87" transform="translate(48,2400)"><use href="#mb"/><use href="#s2"/><text class="k" x="-16.5" y="15">-36</text><text class="k" x="-16.5" y="45">-37</text><text class="n w" x="10" y="15">Сафонов М. П.</text><text class="r" x="10" y="24">R:22</text><text class="r" x="10" y="35">R:10</text><text class="s" x="65" y="32">2:1</text><text class="k" x="105" y="29">87</text><text class="n" x="10" y="45">Омелехин К. Д.</text></g>
<g id="m88" transform="translate(48,2460)"><use href="#mb"/><use href="#s2"/><text class="k" x="-16.5" y="15">-38</text><text class="k" x="-16.5" y="45">-39</text><text class="n" x="10" y="15">Липчук А. И.</text><text class="r" x="10" y="24">R:46</text><text class="r" x="10" y="35">R:24</text><text class="s" x="65" y="32">Тех</text><text class="k" x="105" y="29">88</text><text class="n w" x="10" y="45">Никитин А. А.</text></g>
<g id="m89" transform="translate(48,2520)"><use href="#mb"/><use href="#s2"/><text class="k" x="-16.5" y="15">-40</text><text class="k" x="-16.5" y="45">-41</text><text class="n" x="10" y="15">Ипполитов К. В.</text><text class="r" x="10" y="24">R:14</text><text class="r" x="10" y="35">R:27</text><text class="s" x="65" y="32">1:2</text><text class="k" x="105" y="29">89</text><text class="n w" x="10" y="45">Чинкова Е. А.</text></g>
<g id="m90" transform="translate(48,2580)"><use href="#mb"/><use href="#s2"/><text class="k" x="-16.5" y="15">-42</text><text class="k" x="-16.5" y="45">-43</text><text class="n" x="10" y="15">Тарасов П. В.</text><text class="r" x="10" y="24">R:9</text><text class="r" x="10" y="35">R:0</text><text class="s" x="65" y="32">0:2</text><text class="k" x="105" y="29">90</text><text class="n w" x="10" y="45">Яковлев Е. В.</text></g>
<g id="m91" transform="translate(223,2430)"><use href="#mb"/><text class="n" x="10" y="15">Сафонов М. П.</text><text class="r" x="10" y="24">R:22</text><text class="r" x="10" y="35">R:24</text><text class="s" x="65" y="32">1:2</text><text class="k" x="105" y="29">91</text><text class="n w" x="10" y="45">Никитин А. А.</text></g>
<g id="m92" transform="translate(223,2550)"><use href="#mb"/><text class="n" x="10" y="15">Чинкова Е. А.</text><text class="r" x="10" y="24">R:27</text><text class="r" x="10" y="35">R:0</text><text class="s" x="65" y="32">0:2</text><text class="k" x="105" y="29">92</text><text class="n w" x="10" y="45">Яковлев Е. В.</text></g>
<g id="m93" transform="translate(398,2490)"><use href="#mb"/><use href="#pl" fill="#ffffe0"/><text class="pt" x="118.5" y="12">26</text><text class="pt" x="118.5" y="48">25</text><text class="n" x="10" y="15">Никитин А. А.</text><text class="r" x="10" y="24">R:24</text><text class="r" x="10" y="35">R:0</text><text class="s" x="65" y="32">0:2</text><text class="k" x="105" y="29">93</text><text class="n w" x="10" y="45">Яковлев Е. В.</text></g>
<g id="m75" transform="translate(573,2400)"><use href="#mb"/><use href="#s2"/><text class="k" x="-16.5" y="15">-44</text><text class="k" x="-16.5" y="45">-45</text><text class="n w" x="10" y="15">Грушковская И...</text><text class="r" x="10" y="24">R:-7</text><text class="r" x="10" y="35">R:7</text><text class="s" x="65" y="32">2:1</text><text class="k" x="105" y="29">75</text><text class="n" x="10" y="45">Андреев Д. П.</text></g>
<g id="m76" transform="translate(573,2460)"><use href="#mb"/><use href="#s2"/><text class="k" x="-16.5" y="15">-46</text><text class="k" x="-16.5" y="45">-47</text><text class="n" x="10" y="15">Манукян Э. Г.</text><text class="r" x="10" y="24">R:27</text><text class="r" x="10" y="35">R:5</text><text class="s" x="65" y="32">0:2</text><text class="k" x="105" y="29">76</text><text class="n w" x="10" y="45">Тычинин А. А.</text></g>
<g id="m77" transform="translate(573,2520)"><use href="#mb"/><use href="#s2"/><text class="k" x="-16.5" y="15">-48</text><text class="k" x="-16.5" y="45">-49</text><text class="n" x="10" y="15">Потапенков А....</text><text class="r" x="10" y="24">R:5</text><text class="r" x="10" y="35">R:47</text><text class="s" x="65" y="32">1:2</text><text class="k" x="105" y="29">77</text><text class="n w" x="10" y="45">Юрицына А. Р.</text></g>
<g id="m78" transform="translate(573,2580)"><use href="#mb"/><use href="#s2"/><text class="k" x="-16.5" y="15">-50</text><text class="k" x="-16.5" y="45">-51</text><text class="n w" x="10" y="15">Половцев А. И.</text><text class="r" x="10" y="24">R:34</text><text class="r" x="10" y="35">R:17</text><text class="s" x="65" y="32">2:0</text><text class="k" x="105" y="29">78</text><text class="n" x="10" y="45">Родикова С. А.</text></g>
<g id="m79" transform="translate(748,2430)"><use href="#mb"/><text class="n" x="10" y="15">Грушковская И...</text><text class="r" x="10" y="24">R:-7</text><text class="r" x="10" y="35">R:5</text><text class="s" x="65" y="32">1:2</text><text class="k" x="105" y="29">79</text><text class="n w" x="10" y="45">Тычинин А. А.</text></g>
<g id="m80" transform="translate(748,2550)"><use href="#mb"/><text class="n" x="10" y="15">Юрицына А. Р.</text><text class="r" x="10" y="24">R:47</text><text class="r" x="10" y="35">R:34</text><text class="s" x="65" y="32">1:2</text><text class="k" x="105" y="29">80</text><text class="n w" x="10" y="45">Половцев А. И.</text></g>
<g id="m81" transform="translate(923,2490)"><use href="#mb"/><use href="#pl" fill="#ffffe0"/><text class="pt" x="118.5" y="12">17</text><text class="pt" x="118.5" y="48">18</text><text class="n w" x="10" y="15">Тычинин А. А.</text><text class="r" x="10" y="24">R:5</text><text class="r" x="10" y="35">R:34</text><text class="s" x="65" y="32">2:0</text><text class="k" x="105" y="29">81</text><text class="n" x="10" y="45">Половцев А. И.</text></g>
<g id="m66" transform="translate(1098,2400)"><use href="#mb"/><use href="#s2"/><use href="#pl" fill="#ffffe0"/><text class="k" x="-16.5" y="15">-60</text><text class="k" x="-16.5" y="45">-61</text><text class="pt" x="118.5" y="12">7</text><text class="pt" x="118.5" y="48">8</text><text class="n w" x="10" y="15">Чадаев Д. Н.</text><text class="r" x="10" y="24">R:6</text><text class="r" x="10" y="35">R:8</text><text class="s" x="65" y="32">2:0</text><text class="k" x="105" y="29">66</text><text class="n" x="10" y="45">Миронов И. В.</text></g>
<g id="m65" transform="translate(1273,2400)"><use href="#mb"/><use href="#s2"/><use href="#pl" fill="#ffffe0"/><text class="k" x="-16.5" y="15">-62</text><text class="k" x="-16.5" y="45">-63</text><text class="pt" x="118.5" y="12">6</text><text class="pt" x="118.5" y="48">5</text><text class="n" x="10" y="15">Аронов А. А.</text><text class="r" x="10" y="24">R:6</text><text class="r" x="10" y="35">R:46</text><text class="s" x="65" y="32">0:2</text><text class="k" x="105" y="29">65</text><text class="n w" x="10" y="45">Фукалов Г. Е.</text></g>
<g id="m74" transform="translate(1098,2495)"><use href="#mb"/><use href="#s2"/><use href="#pl" fill="#ffffe0"/><text class="k" x="-16.5" y="15">-71</text><text class="k" x="-16.5" y="45">-72</text><text class="pt" x="118.5" y="12">15</text><text class="pt" x="118.5" y="48">16</text><text class="n w" x="10" y="15">Калинин И. А.</text><text class="r" x="10" y="24">R:34</text><text class="r" x="10" y="35">R:20</text><text class="s" x="65" y="32">2:1</text><text class="k" x="105" y="29">74</text><text class="n" x="10" y="45">Васильева К. В.</text></g>
<g id="m70" transform="translate(1273,2495)"><use href="#mb"/><use href="#s2"/><use href="#pl" fill="#ffffe0"/><text class="k" x="-16.5" y="15">-67</text><text class="k" x="-16.5" y="45">-68</text><text class="pt" x="118.5" y="12">12</text><text class="pt" x="118.5" y="48">11</text><text class="n" x="10" y="15">Тарасенков И....</text><text class="r" x="10" y="24">R:62</text><text class="r" x="10" y="35">R:36</text><text class="s" x="65" y="32">0:2</text><text class="k" x="105" y="29">70</text><text class="n w" x="10" y="45">Мальянова Е. С.</text></g>

<g id="m95" transform="translate(48,2675)"><use href="#mb"/><use href="#s2"/><text class="k" x="-16.5" y="15">-87</text><text class="k" x="-16.5" y="45">-88</text><text class="n w" x="10" y="15">Омелехин К. Д.</text><text class="r" x="10" y="24">R:10</text><text class="r" x="10" y="35">R:46</text><text class="s" x="65" y="32">Тех</text><text class="k" x="105" y="29">95</text><text class="n" x="10" y="45">Липчук А. И.</text></g>
<g id="m96" transform="translate(48,2735)"><use href="#mb"/><use href="#s2"/><text class="k" x="-16.5" y="15">-89</text><text class="k" x="-16.5" y="45">-90</text><text class="n" x="10" y="15">Ипполитов К. В.</text><text class="r" x="10" y="24">R:14</text><text class="r" x="10" y="35">R:9</text><text class="s" x="65" y="32">0:2</text><text class="k" x="105" y="29">96</text><text class="n w" x="10" y="45">Тарасов П. В.</text></g>
<g id="m97" transform="translate(223,2705)"><use href="#mb"/><use href="#pl" fill="#ffffe0"/><text class="pt" x="118.5" y="12">30</text><text class="pt" x="118.5" y="48">29</text><text class="n" x="10" y="15">Омелехин К. Д.</text><text class="r" x="10" y="24">R:10</text><text class="r" x="10" y="35">R:9</text><text class="s" x="65" y="32">0:2</text><text class="k" x="105" y="29">97</text><text class="n w" x="10" y="45">Тарасов П. В.</text></g>
<g id="m83" transform="translate(398,2675)"><use href="#mb"/><use href="#s2"/><text class="k" x="-16.5" y="15">-75</text><text class="k" x="-16.5" y="45">-76</text><text class="n" x="10" y="15">Андреев Д. П.</text><text class="r" x="10" y="24">R:7</text><text class="r" x="10" y="35">R:27</text><text class="s" x="65" y="32">0:2</text><text class="k" x="105" y="29">83</text><text class="n w" x="10" y="45">Манукян Э. Г.</text></g>
<g id="m84" transform="translate(398,2735)"><use href="#mb"/><use href="#s2"/><text class="k" x="-16.5" y="15">-77</text><text class="k" x="-16.5" y="45">-78</text><text class="n w" x="10" y="15">Потапенков А....</text><text class="r" x="10" y="24">R:5</text><text class="r" x="10" y="35">R:17</text><text class="s" x="65" y="32">2:0</text><text class="k" x="105" y="29">84</text><text class="n" x="10" y="45">Родикова С. А.</text></g>
<g id="m85" transform="translate(573,2705)"><use href="#mb"/><use href="#pl" fill="#ffffe0"/><text class="pt" x="118.5" y="12">22</text><text class="pt" x="118.5" y="48">21</text><text class="n" x="10" y="15">Манукян Э. Г.</text><text class="r" x="10" y="24">R:27</text><text class="r" x="10" y="35">R:5</text><text class="s" x="65" y="32">0:2</text><text class="k" x="105" y="29">85</text><text class="n w" x="10" y="45">Потапенков А....</text></g>
<g id="m71" transform="translate(748,2675)"><use href="#mb"/><use href="#s2"/><text class="k" x="-16.5" y="15">-52</text><text class="k" x="-16.5" y="45">-53</text><text class="n" x="10" y="15">Калинин И. А.</text><text class="r" x="10" y="24">R:34</text><text class="r" x="10" y="35">R:11</text><text class="s" x="65" y="32">1:2</text><text class="k" x="105" y="29">71</text><text class="n w" x="10" y="45">Фролов А. С.</text></g>
<g id="m72" transform="translate(748,2735)"><use href="#mb"/><use href="#s2"/><text class="k" x="-16.5" y="15">-54</text><text class="k" x="-16.5" y="45">-55</text><text class="n w" x="10" y="15">Занкевич Г. В.</text><text class="r" x="10" y="24">R:10</text><text class="r" x="10" y="35">R:20</text><text class="s" x="65" y="32">2:0</text><text class="k" x="105" y="29">72</text><text class="n" x="10" y="45">Васильева К. В.</text></g>
<g id="m73" transform="translate(923,2705)"><use href="#mb"/><use href="#pl" fill="#ffffe0"/><text class="pt" x="118.5" y="12">14</text><text class="pt" x="118.5" y="48">13</text><text class="n" x="10" y="15">Фролов А. С.</text><text class="r" x="10" y="24">R:11</text><text class="r" x="10" y="35">R:10</text><text class="s" x="65" y="32">1:2</text><text class="k" x="105" y="29">73</text><text class="n w" x="10" y="45">Занкевич Г. В.</text></g>
<g id="m67" transform="translate(1098,2675)"><use href="#mb"/><use href="#s2"/><text class="k" x="-16.5" y="15">-56</text><text class="k" x="-16.5" y="45">-57</text><text class="n" x="10" y="15">Тарасенков И....</text><text class="r" x="10" y="24">R:62</text><text class="r" x="10" y="35">R:25</text><text class="s" x="65" y="32">0:2</text><text class="k" x="105" y="29">67</text><text class="n w" x="10" y="45">Брук Л. Л.</text></g>
<g id="m68" transform="translate(1098,2735)"><use href="#mb"/><use href="#s2"/><text class="k" x="-16.5" y="15">-58</text><text class="k" x="-16.5" y="45">-59</text><text class="n w" x="10" y="15">Солошенков М....</text><text class="r" x="10" y="24">R:52</text><text class="r" x="10" y="35">R:36</text><text class="s" x="65" y="32">2:0</text><text class="k" x="105" y="29">68</text><text class="n" x="10" y="45">Мальянова Е. С.</text></g>
<g id="m69" transform="translate(1273,2705)"><use href="#mb"/><use href="#pl" fill="#ffffe0"/><text class="pt" x="118.5" y="12">9</text><text class="pt" x="118.5" y="48">10</text><text class="n w" x="10" y="15">Брук Л. Л.</text><text class="r" x="10" y="24">R:25</text><text class="r" x="10" y="35">R:52</text><text class="s" x="65" y="32">2:0</text><text class="k" x="105" y="29">69</text><text class="n" x="10" y="45">Солошенков М....</text></g>

<g id="m99" transform="translate(48,2830)"><use href="#mb"/><use href="#s2"/><use href="#pl" fill="#ffffe0"/><text class="k" x="-16.5" y="15">-34</text><text class="k" x="-16.5" y="45">-35</text><text class="pt" x="118.5" y="12">33</text><text class="pt" x="118.5" y="48">34</text><text class="n w" x="10" y="15">Антоненков К....</text><text class="r" x="10" y="24">R:2</text><text class="r" x="10" y="35">R:3</text><text class="s" x="65" y="32">2:0</text><text class="k" x="105" y="29">99</text><text class="n" x="10" y="45">Хомченко П. А.</text></g>
<g id="m98" transform="translate(223,2830)"><use href="#mb"/><use href="#s2"/><use href="#pl" fill="#ffffe0"/><text class="k" x="-16.5" y="15">-95</text><text class="k" x="-16.5" y="45">-96</text><text class="pt" x="118.5" y="12">32</text><text class="pt" x="118.5" y="48">31</text><text class="n" x="10" y="15">Липчук А. И.</text><text class="r" x="10" y="24">R:46</text><text class="r" x="10" y="35">R:14</text><text class="s" x="65" y="32">Тех</text><text class="k" x="105" y="29">98</text><text class="n w" x="10" y="45">Ипполитов К. В.</text></g>
<g id="m94" transform="translate(398,2830)"><use href="#mb"/><use href="#s2"/><use href="#pl" fill="#ffffe0"/><text class="k" x="-16.5" y="15">-91</text><text class="k" x="-16.5" y="45">-92</text><text class="pt" x="118.5" y="12">28</text><text class="pt" x="118.5" y="48">27</text><text class="n" x="10" y="15">Сафонов М. П.</text><text class="r" x="10" y="24">R:22</text><text class="r" x="10" y="35">R:27</text><text class="s" x="65" y="32">0:2</text><text class="k" x="105" y="29">94</text><text class="n w" x="10" y="45">Чинкова Е. А.</text></g>
<g id="m86" transform="translate(573,2830)"><use href="#mb"/><use href="#s2"/><use href="#pl" fill="#ffffe0"/><text class="k" x="-16.5" y="15">-83</text><text class="k" x="-16.5" y="45">-84</text><text class="pt" x="118.5" y="12">23</text><text class="pt" x="118.5" y="48">24</text><text class="n w" x="10" y="15">Андреев Д. П.</text><text class="r" x="10" y="24">R:7</text><text class="r" x="10" y="35">R:17</text><text class="s" x="65" y="32">2:0</text><text class="k" x="105" y="29">86</text><text class="n" x="10" y="45">Родикова С. А.</text></g>
<g id="m82" transform="translate(748,2830)"><use href="#mb"/><use href="#s2"/><use href="#pl" fill="#ffffe0"/><text class="k" x="-16.5" y="15">-79</text><text class="k" x="-16.5" y="45">-80</text><text class="pt" x="118.5" y="12">19</text><text class="pt" x="118.5" y="48">20</text><text class="n w" x="10" y="15">Грушковская И...</text><text class="r" x="10" y="24">R:-7</text><text class="r" x="10" y="35">R:47</text><text class="s" x="65" y="32">2:1</text><text class="k" x="105" y="29">82</text><text class="n" x="10" y="45">Юрицына А. Р.</text></g>
</svg>
